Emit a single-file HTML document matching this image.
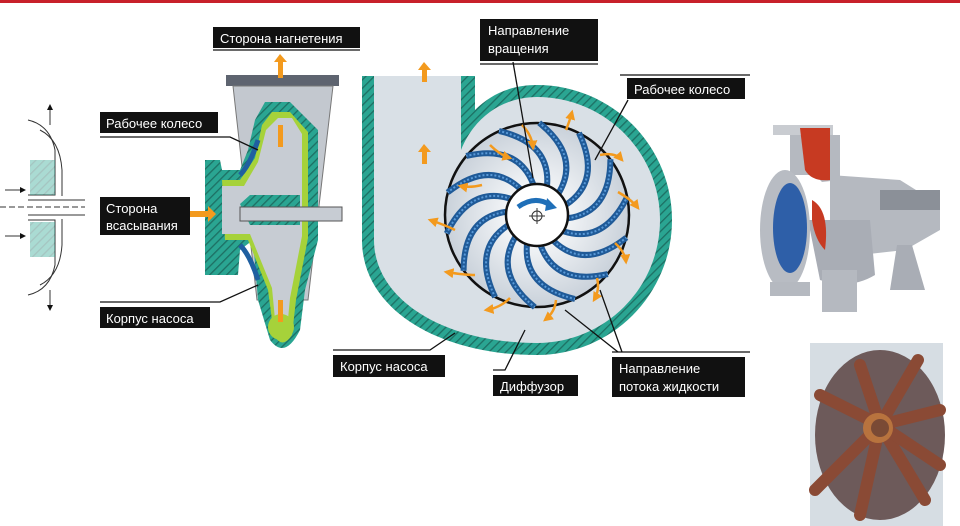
<!DOCTYPE html>
<html><head><meta charset="utf-8"><style>
html,body{margin:0;padding:0;background:#fff;}
body{width:960px;height:526px;overflow:hidden;position:relative;}
svg{position:absolute;left:0;top:0;}
text{font-family:"Liberation Sans","DejaVu Sans",sans-serif;font-size:13px;fill:#fff;}
</style></head><body>
<svg width="960" height="526" viewBox="0 0 960 526">
<defs>
<pattern id="h" width="6" height="6" patternUnits="userSpaceOnUse" patternTransform="rotate(-45)">
<rect width="6" height="6" fill="#2aa592"/><rect width="6" height="1.3" fill="#1d6f63"/>
</pattern>
<radialGradient id="imp" cx="50%" cy="50%" r="50%"><stop offset="0.3" stop-color="#f4f6f8"/><stop offset="1" stop-color="#c9d1da"/></radialGradient>
<marker id="ar" markerWidth="6" markerHeight="6" refX="5" refY="3" orient="auto"><path d="M0,0L6,3L0,6z" fill="#111"/></marker>
<marker id="oa" markerWidth="4" markerHeight="4" refX="3" refY="2" orient="auto"><path d="M0,0L4,2L0,4z" fill="#f39a1e"/></marker>
</defs>
<rect x="0" y="0" width="960" height="3" fill="#c8202a"/>

<!-- left sketch -->
<g stroke="#333" stroke-width="1" fill="none">
<path d="M28,120 Q50,125 55,150 L55,195 L28,195"/>
<path d="M28,295 Q50,290 55,265 L55,220 L28,220"/>
<path d="M40,130 Q60,140 62,170 L62,196"/><path d="M40,285 Q60,275 62,245 L62,219"/>
<line x1="28" y1="200" x2="85" y2="200"/><line x1="28" y1="215" x2="85" y2="215"/>
<line x1="0" y1="207" x2="85" y2="207" stroke-dasharray="6 3"/>
<line x1="50" y1="105" x2="50" y2="125" marker-end="url(#ar)" transform="rotate(180 50 115)"/>
<line x1="50" y1="290" x2="50" y2="310" marker-end="url(#ar)"/>
<line x1="5" y1="190" x2="25" y2="190" marker-end="url(#ar)"/>
<line x1="5" y1="236" x2="25" y2="236" marker-end="url(#ar)"/>
</g>
<rect x="30" y="160" width="25" height="35" fill="url(#h)" opacity="0.4"/>
<rect x="30" y="222" width="25" height="35" fill="url(#h)" opacity="0.4"/>

<!-- side section pump -->
<rect x="226" y="75" width="113" height="11" fill="#5e6470"/>
<path d="M233,86 L333,86 L308,300 L257,300 Z" fill="#c3c8cf" stroke="#777" stroke-width="1"/>
<path d="M265,102 L290,102 L318,130 L318,240 L305,290 L300,330 Q285,360 270,340 L258,300 L253,240 L240,250 L238,275 L205,275 L205,160 L220,160 L222,170 L240,170 L248,150 L255,120 Z" fill="url(#h)"/>
<path d="M272,112 L290,112 L308,132 L308,238 L296,300 L292,335 Q282,350 274,335 L268,290 L248,240 L225,240 L222,180 L240,180 L255,158 L262,125 Z" fill="#a6d23a"/>
<path d="M278,118 L292,118 L302,134 L302,236 L290,298 L287,330 Q280,340 276,330 L272,288 L250,234 L222,234 L222,186 L244,186 L258,162 L266,130 Z" fill="#c7ccd3"/>
<path d="M258,140 Q250,165 240,175" stroke="#1f5fa0" stroke-width="5" fill="none"/>
<path d="M258,280 Q250,255 240,245" stroke="#1f5fa0" stroke-width="5" fill="none"/>
<path d="M240,204 L250,195 L300,195 L300,225 L250,225 Z" fill="url(#h)"/>
<rect x="240" y="207" width="102" height="14" fill="#c7ccd3" stroke="#555"/>
<circle cx="281" cy="327" r="13" fill="#a6d23a"/>
<rect x="278" y="60" width="5" height="18" fill="#f39a1e"/><path d="M274,62L280,54L287,62z" fill="#f39a1e"/>
<rect x="190" y="211" width="20" height="6" fill="#f39a1e"/><path d="M208,206L216,214L208,222z" fill="#f39a1e"/>
<rect x="278" y="125" width="5" height="22" fill="#f39a1e"/><rect x="278" y="300" width="5" height="22" fill="#f39a1e"/>

<!-- volute -->
<path d="M362,76 L362,240 C362,310 440,355 537,355 A130,130 0 0 0 537,85 C510,85 490,95 475,110 L475,76 Z" fill="url(#h)"/>
<path d="M374,76 L374,240 C374,300 445,343 537,343 A118,118 0 0 0 537,97 C505,97 475,115 461,150 L461,76 Z" fill="#d9e0e6"/>
<circle cx="537" cy="215" r="92" fill="url(#imp)" stroke="#111" stroke-width="2.5"/>
<g transform="translate(537 215)" fill="none">
<g id="bl">
<path d="M10,-29 Q14,-72 -38,-84" stroke="#1f5a98" stroke-width="6"/>
<path d="M10,-29 Q14,-72 -38,-84" stroke="#5a9ad8" stroke-width="2" stroke-dasharray="2 2"/>
</g>
<use href="#bl" transform="rotate(25.7)"/><use href="#bl" transform="rotate(51.4)"/><use href="#bl" transform="rotate(77.1)"/>
<use href="#bl" transform="rotate(102.8)"/><use href="#bl" transform="rotate(128.5)"/><use href="#bl" transform="rotate(154.2)"/>
<use href="#bl" transform="rotate(180)"/><use href="#bl" transform="rotate(205.7)"/><use href="#bl" transform="rotate(231.4)"/>
<use href="#bl" transform="rotate(257.1)"/><use href="#bl" transform="rotate(282.8)"/><use href="#bl" transform="rotate(308.5)"/>
<use href="#bl" transform="rotate(334.2)"/>
</g>
<circle cx="537" cy="215" r="31" fill="#fff" stroke="#111" stroke-width="2.5"/>
<path d="M518,207 Q535,195 550,205" stroke="#1f6fb8" stroke-width="5" fill="none"/><path d="M547,198L557,208L545,211z" fill="#1f6fb8"/>
<circle cx="537" cy="216" r="5" fill="none" stroke="#333"/><path d="M529,216h16M537,208v16" stroke="#333"/>
<g stroke="#f39a1e" stroke-width="2.5" fill="none" marker-end="url(#oa)">
<path d="M522,125 Q532,135 533,148"/><path d="M566,130 Q570,120 572,112"/><path d="M490,145 Q500,155 510,158"/>
<path d="M600,155 Q615,152 622,160"/><path d="M618,192 Q632,200 638,208"/><path d="M615,243 Q625,252 626,262"/>
<path d="M597,278 Q600,290 594,300"/><path d="M556,300 Q555,312 545,320"/><path d="M510,298 Q500,308 486,310"/>
<path d="M475,275 Q465,275 446,272"/><path d="M455,230 Q445,225 430,220"/><path d="M482,185 Q470,188 460,186"/>
</g>
<rect x="422" y="68" width="5" height="14" fill="#f39a1e"/><path d="M418,70L424,62L431,70z" fill="#f39a1e"/>
<rect x="422" y="150" width="5" height="14" fill="#f39a1e"/><path d="M418,152L424,144L431,152z" fill="#f39a1e"/>

<!-- labels -->
<g stroke="#111" stroke-width="1.3" fill="none">
<path d="M100,137 L230,137 L258,150"/>
<path d="M100,302 L220,302 L258,285"/>
<path d="M620,75 L750,75"/><path d="M628,100 L595,160"/>
<path d="M513,62 L533,178"/>
<path d="M333,350 L430,350 L455,333"/>
<path d="M493,370 L505,370 L525,330"/>
<path d="M612,352 L750,352"/><path d="M622,352 L600,290"/><path d="M618,352 L565,310"/>
<path d="M213,50 L360,50"/><path d="M480,64 L598,64"/>
</g>
<g fill="#111">
<rect x="213" y="27" width="147" height="21"/>
<rect x="480" y="19" width="118" height="42"/>
<rect x="627" y="78" width="118" height="21"/>
<rect x="100" y="112" width="118" height="21"/>
<rect x="100" y="197" width="90" height="38"/>
<rect x="100" y="307" width="110" height="21"/>
<rect x="333" y="355" width="112" height="22"/>
<rect x="493" y="375" width="85" height="21"/>
<rect x="612" y="357" width="133" height="40"/>
</g>
<text x="220" y="43">Сторона нагнетения</text>
<text x="488" y="35">Направление</text><text x="488" y="53">вращения</text>
<text x="634" y="94">Рабочее колесо</text>
<text x="106" y="128">Рабочее колесо</text>
<text x="106" y="213">Сторона</text><text x="106" y="230">всасывания</text>
<text x="106" y="323">Корпус насоса</text>
<text x="340" y="371">Корпус насоса</text>
<text x="500" y="391">Диффузор</text>
<text x="619" y="373">Направление</text><text x="619" y="391">потока жидкости</text>

<!-- pump photo -->
<rect x="773" y="125" width="60" height="10" fill="#c9ccd1"/>
<path d="M790,135 L840,135 L840,180 L822,182 L815,175 L790,175 Z" fill="#b5b9c0"/>
<path d="M800,128 L830,128 L830,180 Q812,182 805,170 Z" fill="#c73a22"/>
<path d="M830,175 L900,180 L940,205 L940,230 L905,250 L860,255 L830,240 Z" fill="#b5b9c0"/>
<rect x="880" y="190" width="60" height="20" fill="#8b9098"/>
<path d="M808,220 L870,220 L875,275 Q850,290 820,280 Z" fill="#a9adb5"/>
<ellipse cx="785" cy="230" rx="25" ry="60" fill="#b8bcc3"/>
<ellipse cx="790" cy="228" rx="17" ry="45" fill="#2e5fa8"/>
<path d="M812,200 Q830,210 825,250 Q815,240 812,220 Z" fill="#c73a22"/>
<rect x="770" y="282" width="40" height="14" fill="#b5b9c0"/>
<rect x="822" y="270" width="35" height="42" fill="#b5b9c0"/>
<path d="M897,245 L912,245 L925,290 L890,290 Z" fill="#a9adb5"/>
<!-- impeller photo -->
<rect x="810" y="343" width="133" height="183" fill="#d6dde3"/>
<ellipse cx="880" cy="435" rx="65" ry="85" fill="#6d5a5a"/>
<g stroke="#8a4a35" stroke-width="12" stroke-linecap="round">
<path d="M880,425 L860,365"/><path d="M880,425 L918,360"/><path d="M880,425 L940,410"/>
<path d="M880,425 L820,395"/><path d="M880,425 L815,490"/><path d="M880,425 L860,515"/><path d="M880,425 L925,500"/><path d="M880,425 L940,465"/>
</g>
<circle cx="878" cy="428" r="15" fill="#b8733e"/><circle cx="880" cy="428" r="9" fill="#7a4a35"/>
</svg>
</body></html>
